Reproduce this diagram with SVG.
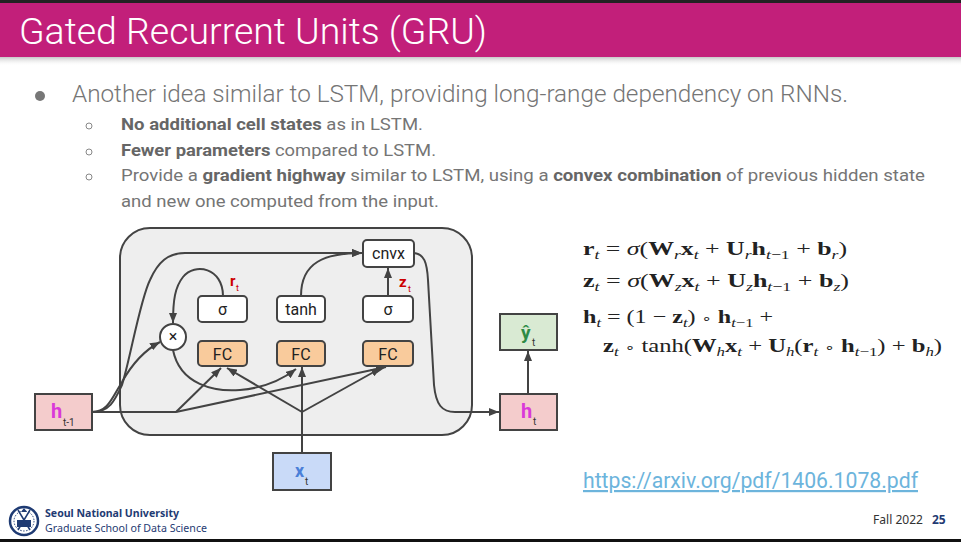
<svg xmlns="http://www.w3.org/2000/svg" width="961" height="542" viewBox="0 0 961 542">
<style>
.body{font-family:Roboto,"Liberation Sans",sans-serif;fill:#757575}
.b{font-weight:bold;fill:#666}
.box{stroke:#434343;stroke-width:2}
.lbl{font-family:Roboto,"Liberation Sans",sans-serif;font-size:16px;fill:#222;text-anchor:middle}
.con{fill:none;stroke:#434343;stroke-width:2}
.eq{font-family:"Liberation Serif","DejaVu Serif",serif;font-size:19px;fill:#222}
.v{font-weight:bold}
.i{font-style:italic;font-size:13px}
.n{font-size:13px}
.o{font-family:"DejaVu Sans",sans-serif;font-size:13px}
.sub{font-family:Roboto,"Liberation Sans",sans-serif;font-size:10px;fill:#333}
</style>
<defs>
<marker id="ah" viewBox="0 0 10 8" refX="10" refY="4" markerWidth="10" markerHeight="8" markerUnits="userSpaceOnUse" orient="auto">
<path d="M0,0 L10,4 L0,8 z" fill="#434343"/>
</marker>
<linearGradient id="sh" x1="0" y1="0" x2="0" y2="1">
<stop offset="0" stop-color="#999" stop-opacity="0.55"/>
<stop offset="1" stop-color="#fff" stop-opacity="0"/>
</linearGradient>
</defs>
<rect x="0" y="0" width="961" height="542" fill="#fff"/>
<!-- header -->
<g id="header">
<rect x="0" y="0" width="961" height="3" fill="#222"/>
<rect x="0" y="3" width="961" height="54" fill="#c21f7a"/>
<rect x="0" y="57" width="961" height="9" fill="url(#sh)"/>
<text x="19" y="44" font-family="Roboto,'Liberation Sans',sans-serif" font-size="36" font-weight="300" fill="#fff" textLength="468" lengthAdjust="spacingAndGlyphs">Gated Recurrent Units (GRU)</text>
</g>
<!-- bullets -->
<g id="bullets">
<circle cx="40" cy="96" r="5" fill="#777"/>
<text class="body" x="72" y="102" font-size="24" font-weight="300" textLength="776" lengthAdjust="spacingAndGlyphs">Another idea similar to LSTM, providing long-range dependency on RNNs.</text>
<circle cx="89" cy="126" r="3" fill="none" stroke="#888" stroke-width="1"/>
<circle cx="89" cy="152" r="3" fill="none" stroke="#888" stroke-width="1"/>
<circle cx="89" cy="177" r="3" fill="none" stroke="#888" stroke-width="1"/>
<text class="body" x="121" y="130" font-size="16.5" textLength="302" lengthAdjust="spacingAndGlyphs"><tspan class="b">No additional cell states</tspan> as in LSTM.</text>
<text class="body" x="121" y="156" font-size="16.5" textLength="315" lengthAdjust="spacingAndGlyphs"><tspan class="b">Fewer parameters</tspan> compared to LSTM.</text>
<text class="body" x="121" y="181" font-size="16.5" textLength="804" lengthAdjust="spacingAndGlyphs">Provide a <tspan class="b">gradient highway</tspan> similar to LSTM, using a <tspan class="b">convex combination</tspan> of previous hidden state</text>
<text class="body" x="121" y="207" font-size="16.5" textLength="318" lengthAdjust="spacingAndGlyphs">and new one computed from the input.</text>
</g>
<!-- cell container -->
<g id="cell">
<rect x="120" y="228" width="352" height="207" rx="30" fill="#eeeeee" stroke="#434343" stroke-width="2"/>
</g>
<!-- connectors -->
<g id="connectors">
<path class="con" d="M92,412 L176,412"/>
<path class="con" d="M176,412 L221,368" marker-end="url(#ah)"/>
<path class="con" d="M176,412 L386,367" marker-end="url(#ah)"/>
<path class="con" d="M302,453 L302,367" marker-end="url(#ah)"/>
<path class="con" d="M302,412 L227,368" marker-end="url(#ah)"/>
<path class="con" d="M302,412 L381,368" marker-end="url(#ah)"/>
<path class="con" d="M92,412 C110,412 115,400 122,385 C130,360 140,300 150,280 C158,262 168,253 185,253 L362,253" marker-end="url(#ah)"/>
<path class="con" d="M92,412 C108,412 112,398 122,382 C132,364 145,350 160,342" marker-end="url(#ah)"/>
<path class="con" d="M223,296 C223,268 195,262 183,277 C175,287 173,300 173,323" marker-end="url(#ah)"/>
<path class="con" d="M173,350 C180,385 215,392 240,390 C265,388 283,379 296,369" marker-end="url(#ah)"/>
<path class="con" d="M301,296 C301,262 325,253 362,253" marker-end="url(#ah)"/>
<path class="con" d="M388,296 L388,268" marker-end="url(#ah)"/>
<path class="con" d="M414,253 C424,254 427,262 428,280 L434,385 C436,405 442,412 455,412 L499,412" marker-end="url(#ah)"/>
<path class="con" d="M528,394 L528,351" marker-end="url(#ah)"/>
</g>
<!-- nodes -->
<g id="cnvx"><rect class="box" x="363" y="240" width="51" height="27" rx="4" fill="#fff"/><text class="lbl" x="388.5" y="259" font-size="15.5">cnvx</text></g>
<g id="sigma_r"><rect class="box" x="198" y="296" width="49" height="26" rx="4" fill="#fff"/><text class="lbl" x="222.5" y="314.5">σ</text></g>
<g id="tanh"><rect class="box" x="277" y="296" width="48" height="26" rx="4" fill="#fff"/><text class="lbl" x="301" y="314.5">tanh</text></g>
<g id="sigma_z"><rect class="box" x="363" y="296" width="50" height="26" rx="4" fill="#fff"/><text class="lbl" x="388" y="314.5">σ</text></g>
<g id="fc_r"><rect class="box" x="198" y="341" width="49" height="25" rx="4" fill="#f9cb9c"/><text class="lbl" x="222.5" y="359.5">FC</text></g>
<g id="fc_h"><rect class="box" x="277" y="341" width="48" height="25" rx="4" fill="#f9cb9c"/><text class="lbl" x="301" y="359.5">FC</text></g>
<g id="fc_z"><rect class="box" x="363" y="341" width="50" height="25" rx="4" fill="#f9cb9c"/><text class="lbl" x="388" y="359.5">FC</text></g>
<g id="mult"><circle class="box" cx="173" cy="337" r="13" fill="#fff"/><text class="lbl" x="173" y="342" font-size="14">×</text></g>
<g id="r_label"><text x="230" y="286" font-family="Roboto,'Liberation Sans',sans-serif" font-size="15" font-weight="bold" fill="#cc0000">r</text><text x="236" y="291" font-family="Roboto,'Liberation Sans',sans-serif" font-size="9" fill="#cc0000">t</text></g>
<g id="z_label"><text x="399" y="287" font-family="Roboto,'Liberation Sans',sans-serif" font-size="15" font-weight="bold" fill="#cc0000">z</text><text x="408" y="292" font-family="Roboto,'Liberation Sans',sans-serif" font-size="9" fill="#cc0000">t</text></g>
<g id="h_prev"><rect class="box" x="35" y="394" width="57" height="36" fill="#f4cccc"/><text x="51" y="418" font-family="Roboto,'Liberation Sans',sans-serif" font-size="20" font-weight="bold" fill="#d93ad9">h</text><text class="sub" x="63" y="426">t-1</text></g>
<g id="x_t"><rect class="box" x="273" y="453" width="58" height="37" fill="#c9daf8"/><text x="295" y="477" font-family="Roboto,'Liberation Sans',sans-serif" font-size="18" font-weight="bold" fill="#4a7fd8">x</text><text class="sub" x="305" y="485">t</text></g>
<g id="h_t"><rect class="box" x="500" y="394" width="57" height="36" fill="#f4cccc"/><text x="521" y="418" font-family="Roboto,'Liberation Sans',sans-serif" font-size="20" font-weight="bold" fill="#d93ad9">h</text><text class="sub" x="533" y="425">t</text></g>
<g id="y_t"><rect class="box" x="500" y="314" width="57" height="36" fill="#d9ead3"/><text x="521" y="339" font-family="Roboto,'Liberation Sans',sans-serif" font-size="19" font-weight="bold" fill="#2e8b46">ŷ</text><text class="sub" x="532" y="346">t</text></g>
<!-- equations -->
<g id="equations">
<text class="eq" x="583" y="255" textLength="264" lengthAdjust="spacingAndGlyphs"><tspan class="v">r</tspan><tspan class="i" dy="4">t</tspan><tspan dy="-4"> = </tspan><tspan font-style="italic">σ</tspan>(<tspan class="v">W</tspan><tspan class="i" dy="4">r</tspan><tspan class="v" dy="-4">x</tspan><tspan class="i" dy="4">t</tspan><tspan dy="-4"> + </tspan><tspan class="v">U</tspan><tspan class="i" dy="4">r</tspan><tspan class="v" dy="-4">h</tspan><tspan class="i" dy="4">t</tspan><tspan class="n">−1</tspan><tspan dy="-4"> + </tspan><tspan class="v">b</tspan><tspan class="i" dy="4">r</tspan><tspan dy="-4">)</tspan></text>
<text class="eq" x="583" y="287" textLength="266" lengthAdjust="spacingAndGlyphs"><tspan class="v">z</tspan><tspan class="i" dy="4">t</tspan><tspan dy="-4"> = </tspan><tspan font-style="italic">σ</tspan>(<tspan class="v">W</tspan><tspan class="i" dy="4">z</tspan><tspan class="v" dy="-4">x</tspan><tspan class="i" dy="4">t</tspan><tspan dy="-4"> + </tspan><tspan class="v">U</tspan><tspan class="i" dy="4">z</tspan><tspan class="v" dy="-4">h</tspan><tspan class="i" dy="4">t</tspan><tspan class="n">−1</tspan><tspan dy="-4"> + </tspan><tspan class="v">b</tspan><tspan class="i" dy="4">z</tspan><tspan dy="-4">)</tspan></text>
<text class="eq" x="583" y="323" textLength="190" lengthAdjust="spacingAndGlyphs"><tspan class="v">h</tspan><tspan class="i" dy="4">t</tspan><tspan dy="-4"> = (1 − </tspan><tspan class="v">z</tspan><tspan class="i" dy="4">t</tspan><tspan dy="-4">) </tspan><tspan class="o">∘</tspan> <tspan class="v">h</tspan><tspan class="i" dy="4">t</tspan><tspan class="n">−1</tspan><tspan dy="-4"> +</tspan></text>
<text class="eq" x="603" y="352" textLength="339" lengthAdjust="spacingAndGlyphs"><tspan class="v">z</tspan><tspan class="i" dy="4">t</tspan><tspan dy="-4"> </tspan><tspan class="o">∘</tspan> tanh(<tspan class="v">W</tspan><tspan class="i" dy="4">h</tspan><tspan class="v" dy="-4">x</tspan><tspan class="i" dy="4">t</tspan><tspan dy="-4"> + </tspan><tspan class="v">U</tspan><tspan class="i" dy="4">h</tspan><tspan dy="-4">(</tspan><tspan class="v">r</tspan><tspan class="i" dy="4">t</tspan><tspan dy="-4"> </tspan><tspan class="o">∘</tspan> <tspan class="v">h</tspan><tspan class="i" dy="4">t</tspan><tspan class="n">−1</tspan><tspan dy="-4">) + </tspan><tspan class="v">b</tspan><tspan class="i" dy="4">h</tspan><tspan dy="-4">)</tspan></text>
</g>
<!-- link -->
<g id="link">
<text x="583" y="488" font-family="Roboto,'Liberation Sans',sans-serif" font-size="22" fill="#6cb4dc" text-decoration="underline" textLength="335" lengthAdjust="spacingAndGlyphs">https://arxiv.org/pdf/1406.1078.pdf</text>
</g>
<!-- footer -->
<g id="footer">
<g id="logo" fill="none" stroke="#1f3b73">
<circle cx="24" cy="521" r="14" stroke-width="2.5"/>
<circle cx="24" cy="521" r="10" stroke-width="1" stroke-dasharray="1.5 1.5"/>
<rect x="17" y="520" width="14" height="7" fill="#1f3b73" stroke="none"/>
<path d="M18,510 L30,530 M30,510 L18,530" stroke-width="1.5"/>
<path d="M21,512 L24,508 L27,512 Z" fill="#1f3b73" stroke="none"/>
</g>
<text x="45" y="517" font-family="'Noto Sans','Open Sans',sans-serif" font-size="10.5" font-weight="bold" fill="#1f3b73" textLength="134" lengthAdjust="spacingAndGlyphs">Seoul National University</text>
<text x="45" y="532" font-family="'Noto Sans','Open Sans',sans-serif" font-size="11" fill="#1f3b73" textLength="162" lengthAdjust="spacingAndGlyphs">Graduate School of Data Science</text>
<text x="873" y="524" font-family="'Noto Sans','Open Sans',sans-serif" font-size="12" fill="#333" textLength="50" lengthAdjust="spacingAndGlyphs">Fall 2022</text>
<text x="932" y="524" font-family="'Noto Sans','Open Sans',sans-serif" font-size="12" font-weight="bold" fill="#1f3b73">25</text>
<rect x="0" y="539" width="961" height="3" fill="#111"/>
</g>
</svg>
